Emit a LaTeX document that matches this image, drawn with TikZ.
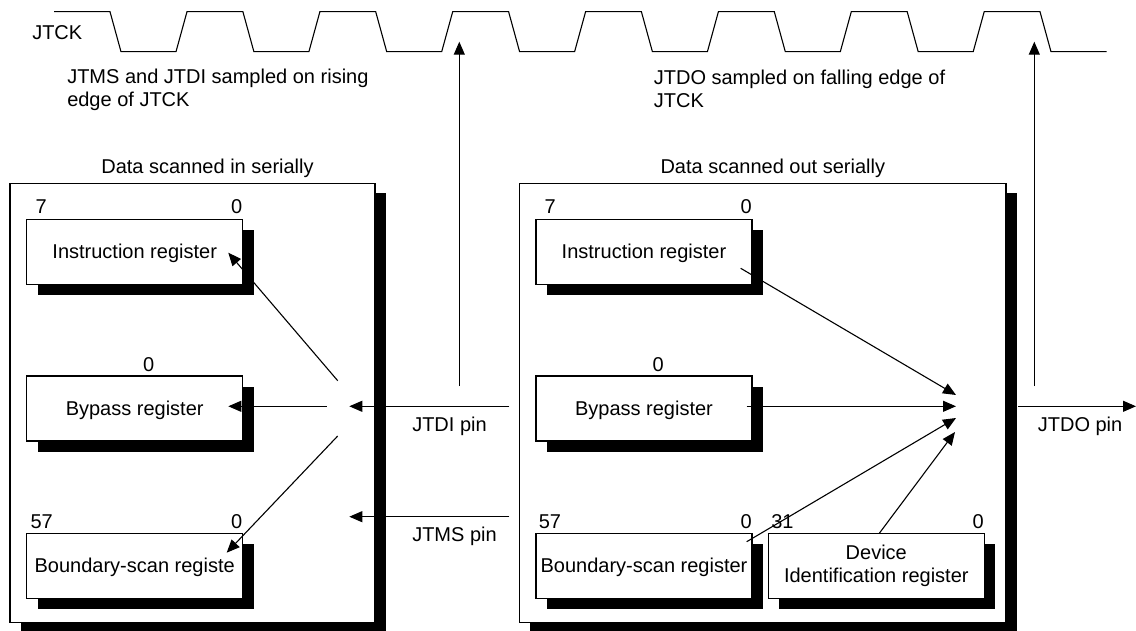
\documentclass[tikz,border=0pt]{standalone}
\usepackage{fontspec}
\setmainfont{Liberation Sans}
\usetikzlibrary{arrows.meta,shadows}
\begin{document}
\begin{tikzpicture}[x=1pt,y=-1pt,
  font=\fontsize{20}{23.3}\selectfont,
  line width=1.1pt,
  outerbox/.style={draw, fill=white, inner sep=0pt,
    drop shadow={shadow xshift=11pt, shadow yshift=-10pt, fill=black, opacity=1}},
  reg/.style={draw, fill=white, inner sep=0pt, minimum width=216pt, minimum height=65pt,
    text height=14.3pt, text depth=0pt,
    drop shadow={shadow xshift=11pt, shadow yshift=-11pt, fill=black, opacity=1}},
  txt/.style={inner sep=0pt, anchor=base west},
  txtr/.style={inner sep=0pt, anchor=base east},
  txtc/.style={inner sep=0pt, anchor=base},
  arr/.style={-{Triangle[length=13pt,width=11pt]}},
]
\useasboundingbox (0,0) rectangle (1136,631);

% clock waveform
\def\H{11.7}\def\L{51.7}
\draw (54,\H) -- (110,\H) -- (121,\L) -- (176,\L) -- (187,\H)
  -- (242.9,\H) -- (253.9,\L) -- (308.9,\L) -- (319.9,\H)
  -- (375.7,\H) -- (386.7,\L) -- (441.7,\L) -- (452.7,\H)
  -- (508.6,\H) -- (519.6,\L) -- (574.6,\L) -- (585.6,\H)
  -- (641.4,\H) -- (652.4,\L) -- (707.4,\L) -- (718.4,\H)
  -- (774.3,\H) -- (785.3,\L) -- (840.3,\L) -- (851.3,\H)
  -- (907.2,\H) -- (918.2,\L) -- (973.2,\L) -- (984.2,\H)
  -- (1040,\H) -- (1051,\L) -- (1106.7,\L);
\node[txt] (jtck) at (31.7,39.3) {JTCK};
\node[txt] (noteA1) at (66.7,83.7) {JTMS and JTDI sampled on rising};
\node[txt] (noteA2) at (66.7,107) {edge of JTCK};
\node[txt] (noteB1) at (653.3,84.5) {JTDO sampled on falling edge of};
\node[txt] (noteB2) at (653.3,107.8) {JTCK};

% outer boxes
\node[outerbox, minimum width=365pt, minimum height=439pt] (inbox) at (192.5,402.8) {};
\node[outerbox, minimum width=486.7pt, minimum height=439pt] (outbox) at (762.65,402.8) {};
\node[txtc] (intitle) at (207.5,173.7) {Data scanned in serially};
\node[txtc] (outtitle) at (772.8,173.7) {Data scanned out serially};

% left registers
\node[reg] (lIR) at (134.7,251.8) {Instruction register};
\node[reg] (lBP) at (134.7,408.5) {Bypass register};
\node[reg] (lBS) at (134.7,565.8) {Boundary-scan registe};
\node[txt] (lIR7) at (35,213.7) {7};
\node[txtr] (lIR0) at (242.7,213.7) {0};
\node[txtc] (lBP0) at (148.7,371) {0};
\node[txt] (lBS57) at (30,528.7) {57};
\node[txtr] (lBS0) at (242.7,528.7) {0};

% right registers
\node[reg] (rIR) at (644,251.8) {Instruction register};
\node[reg] (rBP) at (644,408.5) {Bypass register};
\node[reg] (rBS) at (644,565.8) {Boundary-scan register};
\node[reg, align=center, text height=, text depth=] (rDI) at (876.3,565.8) {Device\\Identification register};
\node[txt] (rIR7) at (544,213.7) {7};
\node[txtr] (rIR0) at (752.3,213.7) {0};
\node[txtc] (rBP0) at (658.3,371) {0};
\node[txt] (rBS57) at (538.3,528.7) {57};
\node[txtr] (rBS0) at (752.3,528.7) {0};
\node[txt] (rDI31) at (770.7,528.7) {31};
\node[txtr] (rDI0) at (984.3,528.7) {0};

% pins
\node[txt] (tdipin) at (411.7,431.3) {JTDI pin};
\node[txt] (tmspin) at (411.7,541) {JTMS pin};
\node[txt] (tdopin) at (1037.3,431.3) {JTDO pin};

% connector points
\coordinate (tdiSrc) at (509.3,406.3);
\coordinate (tdiHub) at (349.3,406.3);
\coordinate (tmsSrc) at (509.3,516.7);
\coordinate (tmsHub) at (349.3,516.7);
\coordinate (tdiUp) at (459.3,386);
\coordinate (riseTip) at (459.3,41.7);
\coordinate (tdoUp) at (1034.3,386);
\coordinate (fallTip) at (1034.3,41.7);
\coordinate (lfA) at (337.7,380.7);
\coordinate (lfB) at (326.7,406.3);
\coordinate (lfC) at (337.7,436);
\coordinate (lIRtip) at (228.3,252.7);
\coordinate (lBPtip) at (228.3,406.3);
\coordinate (lBStip) at (226.7,552.7);
\coordinate (rIRsrc) at (740.7,268.3);
\coordinate (rBPsrc) at (746.7,406.3);
\coordinate (rBSsrc) at (746.7,541.7);
\coordinate (rDIsrc) at (879.3,533.3);
\coordinate (hubA) at (956,395);
\coordinate (hubB) at (956,406.3);
\coordinate (hubC) at (956,418);
\coordinate (hubD) at (955,432);
\coordinate (tdoSrc) at (1018,406.3);
\coordinate (tdoEnd) at (1136,406.3);

% connectors
\draw[arr] (tdiSrc) -- (tdiHub);
\draw[arr] (tmsSrc) -- (tmsHub);
\draw[arr] (tdiUp) -- (riseTip);
\draw[arr] (tdoUp) -- (fallTip);
\draw[arr] (lfA) -- (lIRtip);
\draw[arr] (lfB) -- (lBPtip);
\draw[arr] (lfC) -- (lBStip);
\draw[arr] (rIRsrc) -- (hubA);
\draw[arr] (rBPsrc) -- (hubB);
\draw[arr] (rBSsrc) -- (hubC);
\draw[arr] (rDIsrc) -- (hubD);
\draw[arr] (tdoSrc) -- (tdoEnd);
\end{tikzpicture}
\end{document}
